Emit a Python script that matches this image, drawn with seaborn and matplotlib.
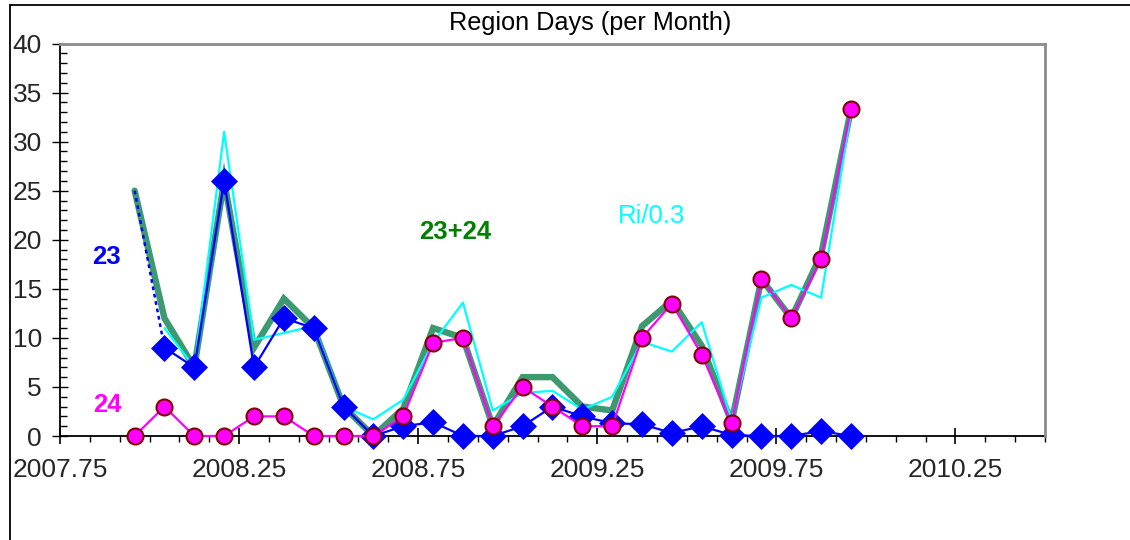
import numpy as np
import pandas as pd
import matplotlib
matplotlib.use("Agg")
import matplotlib.pyplot as plt
from matplotlib.lines import Line2D
from matplotlib.ticker import MultipleLocator, FormatStrFormatter
import seaborn as sns

# ---- data (monthly values, Dec 2007 .. Dec 2009) ----
months = ["2007-12", "2008-01", "2008-02", "2008-03", "2008-04", "2008-05", "2008-06",
          "2008-07", "2008-08", "2008-09", "2008-10", "2008-11", "2008-12",
          "2009-01", "2009-02", "2009-03", "2009-04", "2009-05", "2009-06",
          "2009-07", "2009-08", "2009-09", "2009-10", "2009-11", "2009-12"]
region23 = [np.nan, 9, 7, 26, 7, 12, 11, 3, 0, 1, 1.4, 0, 0, 1, 3, 2, 1.3, 1.2, 0.3, 1, 0.1, 0, 0, 0.5, 0]
region23_est = [25, 9] + [np.nan] * 23
region24 = [0, 3, 0, 0, 2, 2, 0, 0, 0, 2, 9.5, 10, 1, 5, 3, 1, 1, 10, 13.5, 8.3, 1.3, 16, 12, 18, 33.3]
total = [25, 12, 7, 26, 9, 14, 11, 3, 0, 2.8, 11, 10, 1, 6, 6, 3, 2.6, 11.2, 13.8, 9.2, 1.4, 16, 12, 18.5, 33.3]
ri_scaled = [np.nan, 11, 7, 31, 9.8, 10.5, 11.2, 3, 1.7, 3.7, 9.5, 13.6, 2.6, 4.4, 4.6, 2.7, 4.0,
             9.6, 8.6, 11.6, 1.6, 14.1, 15.4, 14.1, 33]
xticks = [2007.75, 2008.25, 2008.75, 2009.25, 2009.75, 2010.25]

# decimal year at mid-month
def to_dec(s):
    y, m = s.split("-")
    return int(y) + (int(m) - 0.5) / 12.0

df = pd.DataFrame({
    "t": [to_dec(m) for m in months],
    "r23": region23, "r23e": region23_est, "r24": region24,
    "tot": total, "ri": ri_scaled,
})

sns.set_style("white")
plt.rcParams["font.family"] = ["Liberation Sans", "DejaVu Sans"]

fig = plt.figure(figsize=(11.3, 5.4), dpi=100)
ax = fig.add_axes([60 / 1130, 1 - 436 / 540, (1045 - 60) / 1130, (436 - 43.5) / 540])

GREEN = "#3d9970"
sub = df.dropna(subset=["tot"])
sns.lineplot(data=sub, x="t", y="tot", ax=ax, color=GREEN, lw=4.6, zorder=2,
             solid_joinstyle="miter", estimator=None, sort=False)
sub = df.dropna(subset=["ri"])
sns.lineplot(data=sub, x="t", y="ri", ax=ax, color="#00ffff", lw=1.6, zorder=3,
             estimator=None, sort=False)
sub = df.dropna(subset=["r23e"])
sns.lineplot(data=sub, x="t", y="r23e", ax=ax, color="#0000ff", lw=1.8, ls=(0, (1.5, 1.5)),
             zorder=4, estimator=None, sort=False)
sub = df.dropna(subset=["r23"])
sns.lineplot(data=sub, x="t", y="r23", ax=ax, color="#0000ff", lw=1.6, zorder=4,
             marker="D", markersize=13.5, markeredgecolor="#0000ff", markerfacecolor="#0000ff",
             markeredgewidth=0.5, clip_on=False, estimator=None, sort=False)
sub = df.dropna(subset=["r24"])
sns.lineplot(data=sub, x="t", y="r24", ax=ax, color="#ff00ff", lw=1.6, zorder=5,
             marker="o", markersize=11.5, markeredgecolor="#800000", markerfacecolor="#ff00ff",
             markeredgewidth=1.5, clip_on=False, estimator=None, sort=False)

ax.set_xlim(2007.75, 2010.5)
ax.set_ylim(0, 40)
ax.set_xlabel("")
ax.set_ylabel("")
ax.xaxis.set_major_locator(plt.FixedLocator(xticks))
ax.xaxis.set_major_formatter(FormatStrFormatter("%.2f"))
ax.xaxis.set_minor_locator(MultipleLocator(1 / 12))
ax.yaxis.set_major_locator(MultipleLocator(5))
ax.yaxis.set_minor_locator(MultipleLocator(1))

ax.tick_params(axis="x", which="major", direction="inout", length=11, width=1.2,
               labelsize=19, pad=10, color="black", bottom=True)
ax.tick_params(axis="x", which="minor", direction="out", length=4.5, width=1.0,
               color="black", bottom=True)
ax.tick_params(axis="y", which="major", direction="inout", length=12, width=1.0,
               labelsize=19, pad=7, color="black", left=True)
ax.tick_params(axis="y", which="minor", direction="in", length=5, width=1.0,
               color="black", left=True)

for s in ["left", "bottom"]:
    ax.spines[s].set_color("black")
    ax.spines[s].set_linewidth(1.3)
for s in ["top", "right"]:
    ax.spines[s].set_color("#8c8c8c")
    ax.spines[s].set_linewidth(2.0)
ax.spines["bottom"].set_zorder(1)

# series labels
ax.text(2007.881, 18.2, "23", color="#0000ff", fontsize=18.5, fontweight="bold",
        ha="center", va="center")
ax.text(2007.881, 3.2, "24", color="#ff00ff", fontsize=18.5, fontweight="bold",
        ha="center", va="center")
ax.text(2008.853, 20.8, "23+24", color="#008000", fontsize=18.5, fontweight="bold",
        ha="center", va="center")
ax.text(2009.401, 22.4, "Ri/0.3", color="#00ffff", fontsize=18.5,
        ha="center", va="center")

fig.text(590 / 1130, 1 - 23 / 540, "Region Days (per Month)", fontsize=18.2,
         ha="center", va="center", color="black")

# outer frame lines
fig.add_artist(Line2D([10 / 1130, 1.0], [1 - 5 / 540, 1 - 5 / 540], color="black", lw=1.3,
                      transform=fig.transFigure))
fig.add_artist(Line2D([10 / 1130, 10 / 1130], [0, 1 - 5 / 540], color="black", lw=1.3,
                      transform=fig.transFigure))

fig.savefig("out.png", dpi=100, facecolor="white")
